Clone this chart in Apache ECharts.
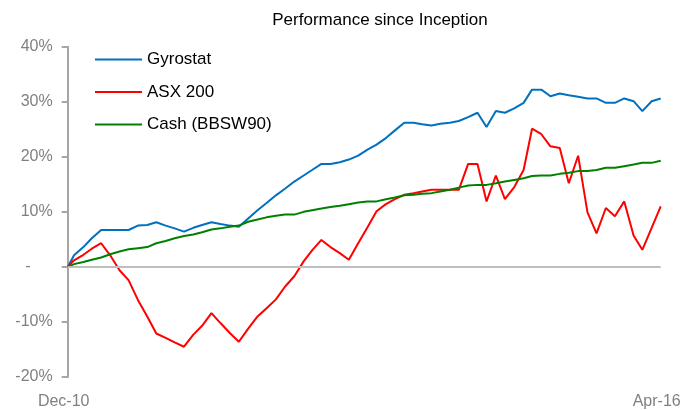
<!DOCTYPE html>
<html>
<head>
<meta charset="utf-8">
<script src="https://cdn.jsdelivr.net/npm/echarts@6/dist/echarts.min.js"></script>
<style>html,body{margin:0;padding:0;background:#fff}#c{width:685px;height:410px}</style>
</head>
<body>
<div id="c"></div>
<script>
// Dates: inception, then month-ends Dec-10 .. Apr-16
const dates = ['2010-12-10','2010-12-31',
 '2011-01-31','2011-02-28','2011-03-31','2011-04-30','2011-05-31','2011-06-30','2011-07-31','2011-08-31','2011-09-30','2011-10-31','2011-11-30','2011-12-31',
 '2012-01-31','2012-02-29','2012-03-31','2012-04-30','2012-05-31','2012-06-30','2012-07-31','2012-08-31','2012-09-30','2012-10-31','2012-11-30','2012-12-31',
 '2013-01-31','2013-02-28','2013-03-31','2013-04-30','2013-05-31','2013-06-30','2013-07-31','2013-08-31','2013-09-30','2013-10-31','2013-11-30','2013-12-31',
 '2014-01-31','2014-02-28','2014-03-31','2014-04-30','2014-05-31','2014-06-30','2014-07-31','2014-08-31','2014-09-30','2014-10-31','2014-11-30','2014-12-31',
 '2015-01-31','2015-02-28','2015-03-31','2015-04-30','2015-05-31','2015-06-30','2015-07-31','2015-08-31','2015-09-30','2015-10-31','2015-11-30','2015-12-31',
 '2016-01-31','2016-02-29','2016-03-31','2016-04-30'];

const gyrostat = [0,
 2.1,3.6,5.2,6.7,6.7,6.7,6.7,7.5,7.6,8.1,
 7.5,7.0,6.4,7.1,7.6,8.1,7.8,7.5,7.3,8.8,
 10.3,11.6,13.0,14.2,15.5,16.6,17.6,18.7,18.7,19.0,
 19.5,20.2,21.3,22.2,23.4,24.8,26.2,26.2,25.9,25.7,
 26.0,26.2,26.5,27.2,28.0,25.4,28.3,28.0,28.8,29.8,
 32.2,32.2,31.0,31.5,31.2,30.9,30.6,30.6,29.8,29.8,
 30.6,30.1,28.3,30.1,30.6];

const asx200 = [0,
 1.2,2.2,3.3,4.3,2.1,-0.6,-2.4,-6.0,-9.0,-12.1,
 -12.9,-13.7,-14.5,-12.3,-10.7,-8.4,-10.2,-12.0,-13.6,-11.2,
 -9.0,-7.5,-5.9,-3.6,-1.7,1.0,3.0,4.9,3.6,2.5,
 1.3,4.3,7.2,10.1,11.4,12.3,13.1,13.4,13.7,14.0,
 14.0,14.0,14.0,18.7,18.7,11.9,16.6,12.3,14.5,17.6,
 25.1,24.1,21.9,21.6,15.2,20.2,9.9,6.1,10.7,9.2,
 11.9,5.7,3.1,7.1,11.0];

const cash = [0,
 0.5,0.9,1.3,1.7,2.3,2.8,3.2,3.4,3.6,4.3,
 4.7,5.2,5.6,5.9,6.3,6.8,7.0,7.3,7.5,8.2,
 8.6,9.0,9.3,9.5,9.5,10.0,10.3,10.6,10.9,11.1,
 11.4,11.7,11.9,11.9,12.3,12.6,13.0,13.1,13.3,13.4,
 13.7,14.0,14.4,14.8,14.9,14.9,15.2,15.5,15.8,16.1,
 16.5,16.6,16.6,16.9,17.1,17.4,17.4,17.6,18.0,18.0,
 18.3,18.6,18.9,18.9,19.3];

const seriesNames = ['Gyrostat','ASX 200','Cash (BBSW90)'];
const seriesColors = ['#0070C0','#FF0000','#008000'];
const xTickLabels = ['Dec-10','Apr-16'];
const yTicks = {min:-20, max:40, step:10};

const DAY = 86400000;
const t0 = Date.parse(dates[0]);
const xs = dates.map(d => (Date.parse(d) - t0) / DAY);
const xMax = xs[xs.length - 1];
const pair = arr => arr.map((v, i) => [xs[i], v]);

const axisFont = 'Liberation Sans';
const chart = echarts.init(document.getElementById('c'), null, {renderer:'canvas'});
chart.setOption({
  animation: false,
  backgroundColor: '#ffffff',
  title: {
    text: 'Performance since Inception',
    left: 380, top: 12, textAlign: 'center', padding: 0,
    textStyle: {fontSize: 17, fontWeight: 'normal', color: '#000', fontFamily: 'Liberation Sans'}
  },
  legend: {
    orient: 'vertical', left: 95, top: 51, padding: 0,
    icon: 'rect',
    itemWidth: 47, itemHeight: 2, itemGap: 15.5,
    textStyle: {fontSize: 17, color: '#000', fontFamily: 'Liberation Sans'},
    data: seriesNames
  },
  grid: {left: 67.7, top: 46.7, width: 593, height: 331.6, containLabel: false},
  xAxis: {
    type: 'value', min: 0, max: xMax, interval: xMax,
    axisLine: {show: false, onZero: false},
    axisTick: {show: false}, splitLine: {show: false},
    axisLabel: {
      fontSize: 16, color: '#808080', fontFamily: axisFont, margin: 17,
      padding: [0, 8, 0, 0],
      formatter: v => v === 0 ? xTickLabels[0] : xTickLabels[1]
    }
  },
  yAxis: {
    type: 'value', min: yTicks.min, max: yTicks.max, interval: yTicks.step,
    axisLine: {show: true, onZero: false, lineStyle: {color: '#A6A6A6', width: 2}},
    axisTick: {show: true, inside: false, length: 6, lineStyle: {color: '#A6A6A6', width: 2}},
    splitLine: {show: false},
    axisLabel: {
      fontSize: 16, color: '#808080', fontFamily: axisFont, margin: 15,
      formatter: v => v === 0 ? '-     ' : v + '%'
    }
  },
  series: [
    {name: seriesNames[0], type: 'line', symbol: 'none', data: pair(gyrostat),
     lineStyle: {color: seriesColors[0], width: 2}, itemStyle: {color: seriesColors[0]},
     markLine: {silent: true, symbol: 'none', label: {show: false},
       lineStyle: {color: '#BFBFBF', width: 2, type: 'solid'}, data: [{yAxis: 0}]}},
    {name: seriesNames[1], type: 'line', symbol: 'none', data: pair(asx200),
     lineStyle: {color: seriesColors[1], width: 2}, itemStyle: {color: seriesColors[1]}},
    {name: seriesNames[2], type: 'line', symbol: 'none', data: pair(cash),
     lineStyle: {color: seriesColors[2], width: 2}, itemStyle: {color: seriesColors[2]}}
  ]
});
</script>
</body>
</html>
